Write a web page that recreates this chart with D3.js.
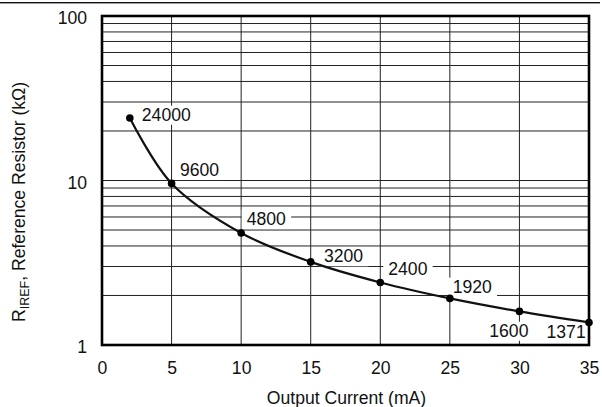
<!DOCTYPE html>
<html>
<head>
<meta charset="utf-8">
<script src="https://cdn.jsdelivr.net/npm/d3@7"></script>
<style>
  html, body { margin: 0; padding: 0; background: #fff; }
  svg { display: block; }
  text { font-family: "Liberation Sans", Arial, Helvetica, sans-serif; fill: #111; }
</style>
</head>
<body>
<svg id="chart" width="602" height="407"></svg>
<script>
// ---- data ----
const currents = [2, 5, 10, 15, 20, 25, 30, 35];               // Output current (mA)
const resistances = [24, 9.6, 4.8, 3.2, 2.4, 1.92, 1.6, 1.371]; // R_IREF (kΩ)
const pointLabels = ["24000", "9600", "4800", "3200", "2400", "1920", "1600", "1371"];
const xTicks = [0, 5, 10, 15, 20, 25, 30, 35];
const yTicks = [1, 10, 100];
const yTickLabels = ["1", "10", "100"];
const xTitle = "Output Current (mA)";

// ---- layout ----
const svg = d3.select("#chart");
const pLeft = 102, pRight = 589, pTop = 16, pBottom = 345;
const FS = 17.6;
const x = d3.scaleLinear().domain([0, 35]).range([pLeft, pRight]);
const y = d3.scaleLog().domain([1, 100]).range([pBottom, pTop]);

// top rule
svg.append("rect").attr("x", 0).attr("y", 2).attr("width", 600).attr("height", 1.4).attr("fill", "#111");

// grid
const minorY = [];
[1, 10].forEach(d => { for (let k = 2; k <= 9; k++) minorY.push(d * k); });
minorY.push(10);
svg.append("g").selectAll("line").data(minorY).join("line")
  .attr("x1", pLeft).attr("x2", pRight)
  .attr("y1", d => y(d)).attr("y2", d => y(d))
  .attr("stroke", "#222").attr("stroke-width", 1);
svg.append("g").selectAll("line").data(xTicks.slice(1, -1)).join("line")
  .attr("x1", d => x(d)).attr("x2", d => x(d))
  .attr("y1", pTop).attr("y2", pBottom)
  .attr("stroke", "#222").attr("stroke-width", 1);

// axes labels (via d3 axes, no tick marks)
const xAxis = d3.axisBottom(x).tickValues(xTicks).tickSize(0).tickPadding(0).tickFormat(d3.format("d"));
const gx = svg.append("g").attr("transform", `translate(0,${pBottom})`).call(xAxis);
gx.select(".domain").remove();
gx.selectAll("text").attr("font-size", FS).attr("dy", null).attr("y", 28.5)
  .style("font-family", '"Liberation Sans", Arial, sans-serif').attr("fill", "#111");

const yAxis = d3.axisLeft(y).tickValues(yTicks).tickSize(0).tickPadding(0)
  .tickFormat((d, i) => yTickLabels[i]);
const gy = svg.append("g").attr("transform", `translate(${pLeft},0)`).call(yAxis);
gy.select(".domain").remove();
gy.selectAll("text").attr("font-size", FS).attr("x", -15).attr("dy", "0.45em")
  .style("font-family", '"Liberation Sans", Arial, sans-serif').attr("fill", "#111");

// axis titles
svg.append("text").attr("x", (pLeft + pRight) / 2 + 1).attr("y", 404)
  .attr("text-anchor", "middle").attr("font-size", FS).text(xTitle);

const yt = svg.append("text")
  .attr("transform", `translate(25,322) rotate(-90)`)
  .attr("text-anchor", "start").attr("font-size", FS);
yt.append("tspan").text("R");
yt.append("tspan").attr("font-size", 12.5).attr("dy", 4).text("IREF");
yt.append("tspan").attr("dy", -4).text(", Reference Resistor (kΩ)");

// point labels with white backgrounds
const labelOffsets = [
  { dx: 12, dy: 2.7, anchor: "start" },
  { dx: 8.4, dy: -7.4, anchor: "start" },
  { dx: 5.6, dy: -7.9, anchor: "start" },
  { dx: 13.3, dy: 0.4, anchor: "start" },
  { dx: 8, dy: -7.5, anchor: "start" },
  { dx: 2.8, dy: -5.7, anchor: "start" },
  { dx: 9, dy: 25.3, anchor: "end" },
  { dx: -3.3, dy: 16, anchor: "end" }
];
const pts = currents.map((c, i) => ({ c, r: resistances[i], label: pointLabels[i], off: labelOffsets[i] }));
const lg = svg.append("g");
pts.forEach(p => {
  const g = lg.append("g");
  const t = g.append("text")
    .attr("x", x(p.c) + p.off.dx).attr("y", y(p.r) + p.off.dy)
    .attr("text-anchor", p.off.anchor).attr("font-size", FS).text(p.label);
  const bb = t.node().getBBox();
  g.insert("rect", "text")
    .attr("x", bb.x - 5).attr("y", bb.y + 1).attr("width", bb.width + 10).attr("height", bb.height - 1)
    .attr("fill", "#fff");
});

// curve
const line = d3.line().x(d => x(d.c)).y(d => y(d.r)).curve(d3.curveCatmullRom.alpha(0.5));
svg.append("path").datum(pts).attr("d", line)
  .attr("fill", "none").attr("stroke", "#111").attr("stroke-width", 2.2);

svg.append("g").selectAll("circle").data(pts).join("circle")
  .attr("cx", d => x(d.c)).attr("cy", d => y(d.r)).attr("r", 3.8).attr("fill", "#000");

// frame
svg.append("rect").attr("x", pLeft).attr("y", pTop).attr("width", pRight - pLeft).attr("height", pBottom - pTop)
  .attr("fill", "none").attr("stroke", "#000").attr("stroke-width", 2.6);
</script>
</body>
</html>
